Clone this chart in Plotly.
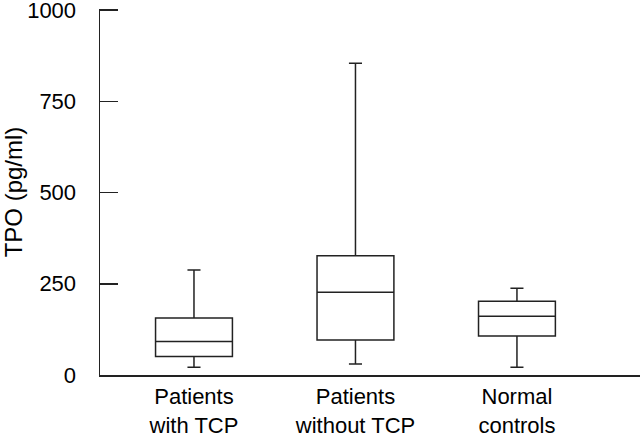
import plotly.graph_objects as go

categories = ["Patients<br>with TCP", "Patients<br>without TCP", "Normal<br>controls"]
lower_whisker = [21, 30, 21]
q1_values = [51, 96, 107]
median_values = [92, 227, 161]
q3_values = [156, 327, 202]
upper_whisker = [288, 854, 238]
y_ticks = [0, 250, 500, 750, 1000]

FONT = "Liberation Sans, Arial, sans-serif"
LINE = "#222222"

fig = go.Figure()
fig.add_trace(go.Box(
    x=categories,
    q1=q1_values,
    median=median_values,
    q3=q3_values,
    lowerfence=lower_whisker,
    upperfence=upper_whisker,
    fillcolor="rgba(0,0,0,0)",
    line=dict(color=LINE, width=1.5),
    whiskerwidth=0.17,
    boxpoints=False,
    hoverinfo="skip",
    showlegend=False,
))

fig.update_layout(
    width=640, height=435,
    margin=dict(l=100, r=0, t=9, b=60),
    paper_bgcolor="white", plot_bgcolor="white",
    boxgap=0.32,
    font=dict(family=FONT, size=22, color="black"),
    xaxis=dict(
        type="category",
        range=[-0.582, 2.762],
        showline=True, linecolor=LINE, linewidth=1.5,
        ticks="", showgrid=False, zeroline=False,
        tickfont=dict(size=22),
        ticklabelstandoff=1,
        automargin=False,
        ticklabeloverflow="allow",
    ),
    yaxis=dict(
        range=[0, 1003],
        tickvals=y_ticks,
        ticktext=[str(v) for v in y_ticks],
        ticks="inside", ticklen=18, tickwidth=1.5, tickcolor=LINE,
        showline=True, linecolor=LINE, linewidth=1.5,
        showgrid=False, zeroline=False,
        tickfont=dict(size=22),
        ticklabelstandoff=18,
        automargin=False,
        ticklabeloverflow="allow",
        title=dict(text="TPO (pg/ml)", font=dict(size=24), standoff=13),
    ),
)

fig.write_html(
    "out.html",
    config={"displayModeBar": False, "staticPlot": True},
    post_script="document.body.style.margin='0';document.body.style.overflow='hidden';",
)
